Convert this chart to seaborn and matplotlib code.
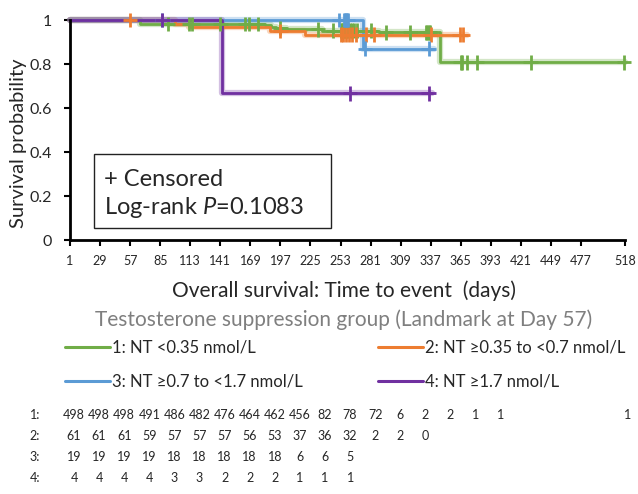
import matplotlib
matplotlib.use("Agg")
import matplotlib.pyplot as plt
from matplotlib.lines import Line2D
from matplotlib.patches import Rectangle
import numpy as np
import pandas as pd
import seaborn as sns

# ---------------------------------------------------------------------------
# Data
# ---------------------------------------------------------------------------
group_labels = ["1: NT <0.35 nmol/L", "2: NT \u22650.35 to <0.7 nmol/L",
                "3: NT \u22650.7 to <1.7 nmol/L", "4: NT \u22651.7 nmol/L"]
group_colors = ["#70AD47", "#ED7D31", "#5B9BD5", "#7030A0"]

# step change days and survival level after each change
step_days_1 = [1, 66, 183, 188, 193, 202, 236, 289, 346]
step_surv_1 = [1.0, 0.982, 0.976, 0.970, 0.964, 0.957, 0.951, 0.944, 0.808]
last_day_1 = 518
censor_1 = [92, 112, 115, 141, 164, 168, 176, 197, 232, 246, 253, 254, 255,
            256, 257, 258, 259, 260, 262, 264, 266, 268, 281, 295, 318, 333,
            334, 335, 336, 365, 366, 371, 380, 430, 517]

step_days_2 = [1, 99, 112, 187, 220]
step_surv_2 = [1.0, 0.984, 0.967, 0.950, 0.933]
last_day_2 = 371
censor_2 = [57, 197, 253, 255, 258, 261, 264, 267, 277, 284, 337, 364, 367]

step_days_3 = [1, 274]
step_surv_3 = [1.0, 0.870]
last_day_3 = 340
censor_3 = [87, 252, 256, 257, 258, 259, 260, 276, 335]

step_days_4 = [1, 143]
step_surv_4 = [1.0, 0.667]
last_day_4 = 338
censor_4 = [87, 262, 335]

x_ticks = [1, 29, 57, 85, 113, 141, 169, 197, 225, 253, 281, 309, 337, 365,
           393, 421, 449, 477, 518]
y_ticks = [0, 0.2, 0.4, 0.6, 0.8, 1]
y_tick_labels = ["0", "0.2", "0.4", "0.6", "0.8", "1"]

at_risk_1 = [498, 498, 498, 491, 486, 482, 476, 464, 462, 456, 82, 78, 72, 6,
             2, 2, 1, 1, 1]
at_risk_2 = [61, 61, 61, 59, 57, 57, 57, 56, 53, 37, 36, 32, 2, 2, 0]
at_risk_3 = [19, 19, 19, 19, 18, 18, 18, 18, 18, 6, 6, 5]
at_risk_4 = [4, 4, 4, 4, 3, 3, 2, 2, 2, 1, 1, 1]

legend_title = "Testosterone suppression group (Landmark at Day 57)"
x_label = "Overall survival: Time to event  (days)"
y_label = "Survival probability"

# ---------------------------------------------------------------------------
# Long-form tables
# ---------------------------------------------------------------------------
groups = [
    (step_days_1, step_surv_1, last_day_1, censor_1),
    (step_days_2, step_surv_2, last_day_2, censor_2),
    (step_days_3, step_surv_3, last_day_3, censor_3),
    (step_days_4, step_surv_4, last_day_4, censor_4),
]
line_rows, cens_rows = [], []
for label, (days, surv, last, cens) in zip(group_labels, groups):
    for d, s in zip(days, surv):
        line_rows.append((label, d, s))
    line_rows.append((label, last, surv[-1]))
    idx = np.searchsorted(days, cens, side="right") - 1
    for d, i in zip(cens, idx):
        cens_rows.append((label, d, surv[i]))
lines_df = pd.DataFrame(line_rows, columns=["group", "day", "surv"])
cens_df = pd.DataFrame(cens_rows, columns=["group", "day", "surv"])
palette = dict(zip(group_labels, group_colors))

# ---------------------------------------------------------------------------
# Figure
# ---------------------------------------------------------------------------
sns.set_style("white")
plt.rcParams["font.family"] = ["Lato", "DejaVu Sans"]
plt.rcParams["mathtext.fontset"] = "custom"
plt.rcParams["mathtext.rm"] = "Lato"
plt.rcParams["mathtext.it"] = "Lato:italic"

W, H = 638, 494
fig = plt.figure(figsize=(W / 100, H / 100), dpi=100)
ax = fig.add_axes([70 / W, 1 - 240 / H, 555 / W, 220 / H])

# soft halo under each curve, then the curve itself
sns.lineplot(data=lines_df, x="day", y="surv", hue="group", palette=palette,
             drawstyle="steps-post", estimator=None, legend=False, ax=ax,
             linewidth=4.5, alpha=0.3, clip_on=False)
sns.lineplot(data=lines_df, x="day", y="surv", hue="group", palette=palette,
             drawstyle="steps-post", estimator=None, legend=False, ax=ax,
             linewidth=2, clip_on=False)
sns.scatterplot(data=cens_df, x="day", y="surv", hue="group", palette=palette,
                marker="+", s=110, linewidth=2, legend=False, ax=ax,
                clip_on=False, zorder=3)

ax.set_xlim(1, 518)
ax.set_ylim(0, 1)
ax.set_xticks(x_ticks)
ax.set_xticklabels([str(t) for t in x_ticks], fontsize=9)
ax.set_yticks(y_ticks)
ax.set_yticklabels(y_tick_labels, fontsize=11.5)
ax.tick_params(axis="both", direction="out", length=4, width=1.5,
               color="black", bottom=True, left=True)
ax.tick_params(axis="x", pad=7)
ax.tick_params(axis="y", pad=9)
sns.despine(ax=ax)
for side in ("left", "bottom"):
    ax.spines[side].set_linewidth(2)
    ax.spines[side].set_color("black")
ax.set_xlabel("")
ax.set_ylabel("")

fig.text(19 / W, 1 - 143 / H, y_label, rotation=90, ha="center",
         va="center", fontsize=14.5)
fig.text(344 / W, 1 - 291 / H, x_label, ha="center", va="center",
         fontsize=15)

# annotation box
fig.patches.append(Rectangle((94 / W, 1 - 228 / H), 237 / W, 74 / H,
                             transform=fig.transFigure, facecolor="white",
                             edgecolor="#222222", linewidth=1, zorder=5))
fig.text(104 / W, 1 - 180 / H, "+ Censored", ha="left", va="center",
         fontsize=17, zorder=6)
fig.text(104 / W, 1 - 207 / H, "Log-rank $P$=0.1083", ha="left",
         va="center", fontsize=17, zorder=6)

# legend
fig.text(344 / W, 1 - 320 / H, legend_title, ha="center", va="center",
         fontsize=15, color="#7F7F7F")
handles = [Line2D([], [], color=c, linewidth=2.2) for c in group_colors]
order = [0, 2, 1, 3]
fig.legend([handles[i] for i in order], [group_labels[i] for i in order],
           ncol=2, loc="center", bbox_to_anchor=(345 / W, 1 - 364.5 / H),
           frameon=False, fontsize=12, handlelength=2.7, handletextpad=0.12,
           columnspacing=4.5, labelspacing=1.1)

# numbers at risk
col_x = [74 + 25.1 * i for i in range(18)] + [628]
row_y = [415, 436, 457, 478]
for r, (yy, vals) in enumerate(zip(row_y, [at_risk_1, at_risk_2, at_risk_3,
                                           at_risk_4])):
    fig.text(35 / W, 1 - yy / H, f"{r + 1}:", ha="center", va="center",
             fontsize=9)
    for xx, v in zip(col_x, vals):
        fig.text(xx / W, 1 - yy / H, str(v), ha="center", va="center",
                 fontsize=9)

fig.savefig("out.png", dpi=100)
